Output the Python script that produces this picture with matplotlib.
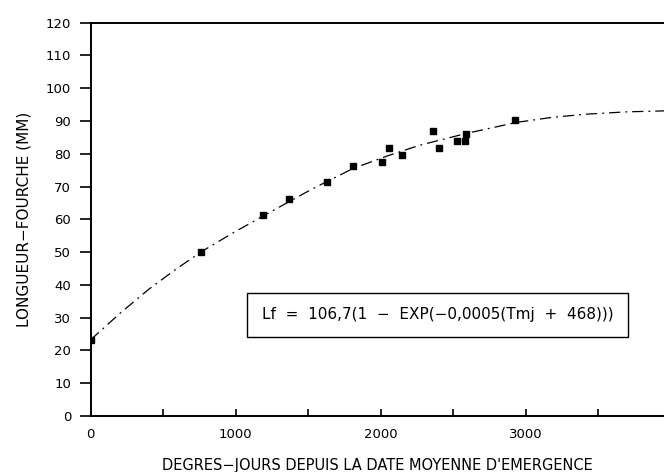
import matplotlib
matplotlib.use("Agg")
import matplotlib.pyplot as plt
from matplotlib.ticker import MultipleLocator

# Observed data (degree-days since mean emergence date, fork length mm)
obs_x = [0, 760, 1190, 1370, 1630, 1810, 2010, 2060, 2150, 2360, 2400, 2530, 2580, 2590, 2930]
obs_y = [23.2, 50, 61.3, 66.2, 71.3, 76.2, 77.4, 81.7, 79.6, 86.9, 81.7, 83.8, 83.8, 86.0, 90.2]

# Fitted curve
curve_x = [0, 200, 400, 580, 760, 980, 1190, 1530, 1810, 2050, 2270, 2590, 2940, 3180, 3420, 3700, 3960]
curve_y = [23.2, 31.2, 38.6, 44.5, 50, 55.8, 61, 69.3, 75.5, 79.4, 82.6, 86.2, 89.6, 91.1, 92.1, 92.8, 93.1]

x_ticks = [0, 1000, 2000, 3000]
y_ticks = list(range(0, 121, 10))

equation = "Lf  =  106,7(1  \u2212  EXP(\u22120,0005(Tmj  +  468)))"
xlabel = "DEGRES\u2212JOURS DEPUIS LA DATE MOYENNE D'EMERGENCE"
ylabel = "LONGUEUR\u2212FOURCHE (MM)"

plt.rcParams['font.family'] = ['DejaVu Sans']
fig = plt.figure(figsize=(6.64, 4.72), dpi=100)
ax = fig.add_axes([90.5 / 664, 56 / 472, 1 - 90.5 / 664, (416 - 22.7) / 472])

ax.plot(curve_x, curve_y, color='black', lw=0.9,
        linestyle=(0, (9, 4, 1.5, 4)), zorder=2)
ax.plot(obs_x, obs_y, linestyle='none', marker='s', markersize=5,
        color='black', zorder=3)

ax.set_xlim(0, 3955)
ax.set_ylim(0, 120)
ax.set_xticks(x_ticks)
ax.xaxis.set_minor_locator(MultipleLocator(500))
ax.set_yticks(y_ticks)
ax.tick_params(axis='x', which='both', direction='in', length=5, width=1.2,
               labelsize=9.5, pad=9)
ax.tick_params(axis='y', direction='out', length=8, width=1.2, labelsize=9.5,
               pad=6)

for side in ['left', 'bottom', 'top']:
    ax.spines[side].set_linewidth(1.4)
ax.spines['right'].set_visible(False)

ax.set_xlabel(xlabel, fontsize=10.5, labelpad=12)
ax.set_ylabel(ylabel, fontsize=11, labelpad=10)

ax.text((437.5 - 90.5) / 573.5, (416 - 314.7) / 393.3, equation,
        transform=ax.transAxes, fontsize=11, ha='center', va='center',
        bbox=dict(boxstyle='square,pad=0.95', facecolor='white',
                  edgecolor='black', linewidth=1.0))

fig.savefig("out.png", dpi=100)
